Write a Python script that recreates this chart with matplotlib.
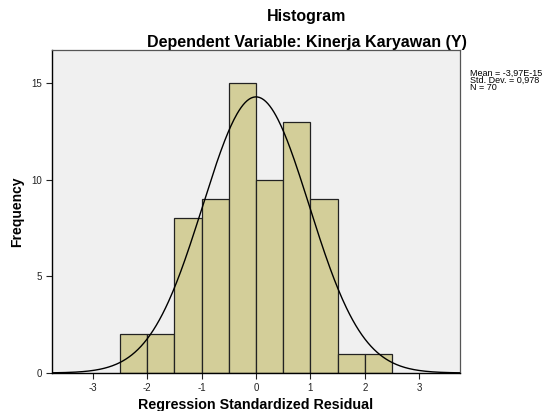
import numpy as np
import matplotlib.pyplot as plt

plt.rcParams['font.family'] = ['Liberation Sans', 'DejaVu Sans']
plt.rcParams['axes.unicode_minus'] = False

# Histogram data (bin edges and counts)
bin_edges = [-2.5, -2.0, -1.5, -1.0, -0.5, 0.0, 0.5, 1.0, 1.5, 2.0, 2.5]
counts = [2, 2, 8, 9, 15, 10, 13, 9, 1, 1]
mean = -3.97e-15
std_dev = 0.978
n = 70

fig = plt.figure(figsize=(5.55, 4.11), dpi=100)
ax = fig.add_axes([0.0937, 0.0925, 0.7351, 0.7858])
ax.set_facecolor('#f0f0f0')

widths = np.diff(bin_edges)
ax.bar(bin_edges[:-1], counts, width=widths, align='edge',
       color='#d3ce99', edgecolor='#222222', linewidth=0.9, zorder=2)

# Normal curve scaled to the histogram
x = np.linspace(-3.75, 3.75, 400)
bw = widths[0]
y = n * bw / (std_dev * np.sqrt(2 * np.pi)) * np.exp(-0.5 * ((x - mean) / std_dev) ** 2)
ax.plot(x, y, color='black', linewidth=1.0, zorder=3)

ax.set_xlim(-3.75, 3.75)
ax.set_ylim(0, 16.7)
ax.set_xticks([-3, -2, -1, 0, 1, 2, 3])
ax.set_yticks([0, 5, 10, 15])
ax.tick_params(direction='out', length=4, width=0.8, labelsize=7, colors='#222222')

for s in ['left', 'bottom']:
    ax.spines[s].set_color('black')
    ax.spines[s].set_linewidth(1.0)
for s in ['top', 'right']:
    ax.spines[s].set_color('#555555')
    ax.spines[s].set_linewidth(0.9)

ax.set_xlabel('Regression Standardized Residual', fontsize=10.3, fontweight='bold', labelpad=3)
ax.set_ylabel('Frequency', fontsize=10, fontweight='bold', labelpad=5)

fig.text(307 / 555, 1 - 16 / 411, 'Histogram', ha='center', va='center',
         fontsize=11.5, fontweight='bold')
fig.text(307 / 555, 1 - 43 / 411, 'Dependent Variable: Kinerja Karyawan (Y)',
         ha='center', va='center', fontsize=11.5, fontweight='bold')

fig.text(470 / 555, 1 - 69 / 411,
         'Mean = -3,97E-15\nStd. Dev. = 0,978\nN = 70',
         ha='left', va='top', fontsize=6.5, linespacing=0.75)

fig.savefig('out.png', dpi=100)
